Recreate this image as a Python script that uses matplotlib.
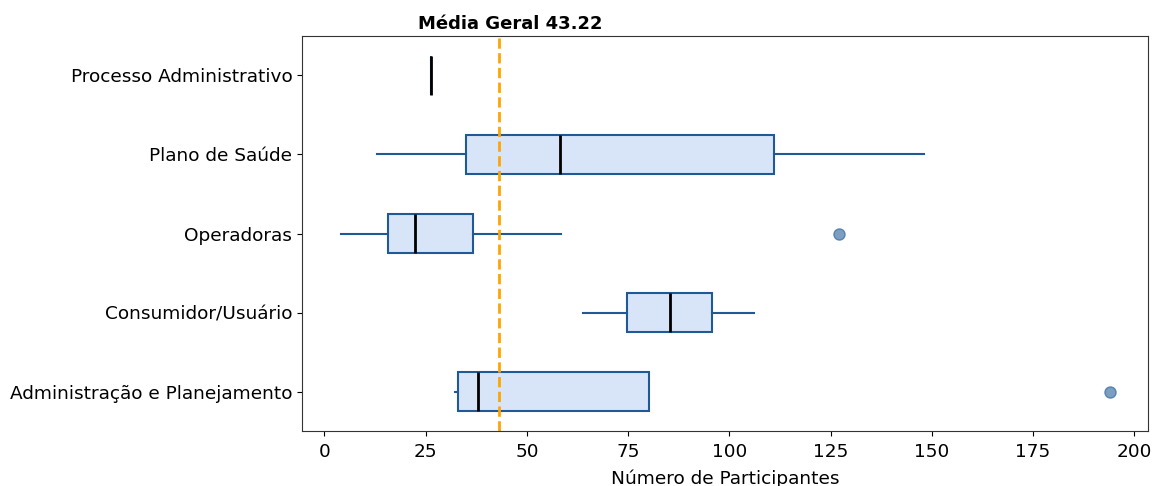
import matplotlib.pyplot as plt

# categorias de baixo para cima
categorias = ["Administração e Planejamento", "Consumidor/Usuário", "Operadoras",
              "Plano de Saúde", "Processo Administrativo"]
minimo = [32.2, 63.9, 4.2, 13.1, 26.4]
q1 = [33.0, 74.7, 15.8, 35.1, 26.4]
mediana = [37.9, 85.3, 22.5, 58.3, 26.4]
q3 = [80.2, 95.7, 36.7, 111.1, 26.4]
maximo = [80.2, 106.0, 58.4, 148.2, 26.4]
outliers = [[194.1], [], [127.1], [], []]
media_geral = 43.22

# estatisticas para o bxp
stats = []
for i in range(len(categorias)):
    stats.append({"label": categorias[i], "whislo": minimo[i], "q1": q1[i], "med": mediana[i],
                  "q3": q3[i], "whishi": maximo[i], "fliers": outliers[i]})

fig = plt.figure(figsize=(11.53, 4.86), dpi=100)
ax = fig.add_axes([0.262, 0.113, 0.734, 0.813])

azul = "#1f5a96"
ax.bxp(stats, vert=False, widths=0.5, patch_artist=True, showcaps=False,
       boxprops=dict(facecolor="#d8e5f8", edgecolor=azul, linewidth=1.5),
       whiskerprops=dict(color=azul, linewidth=1.5),
       medianprops=dict(color="black", linewidth=2),
       flierprops=dict(marker="o", markerfacecolor="#4f7fae", markeredgecolor="#3f6e9e",
                       alpha=0.75, markersize=8))

ax.axvline(media_geral, color="orange", linestyle="--", linewidth=2)
ax.annotate(f"Média Geral {media_geral}", xy=(media_geral, 1), xycoords=("data", "axes fraction"),
            xytext=(8, 2), textcoords="offset points", ha="center", va="bottom",
            fontsize=13, fontweight="bold")

ax.set_xlim(-5.5, 203.5)
ax.set_xticks([0, 25, 50, 75, 100, 125, 150, 175, 200])
ax.set_xlabel("Número de Participantes", fontsize=13.3, labelpad=6)
ax.tick_params(labelsize=13.3)
ax.tick_params(axis="x", pad=5)
for s in ax.spines.values():
    s.set_color("#333333")

fig.savefig("out.png")
